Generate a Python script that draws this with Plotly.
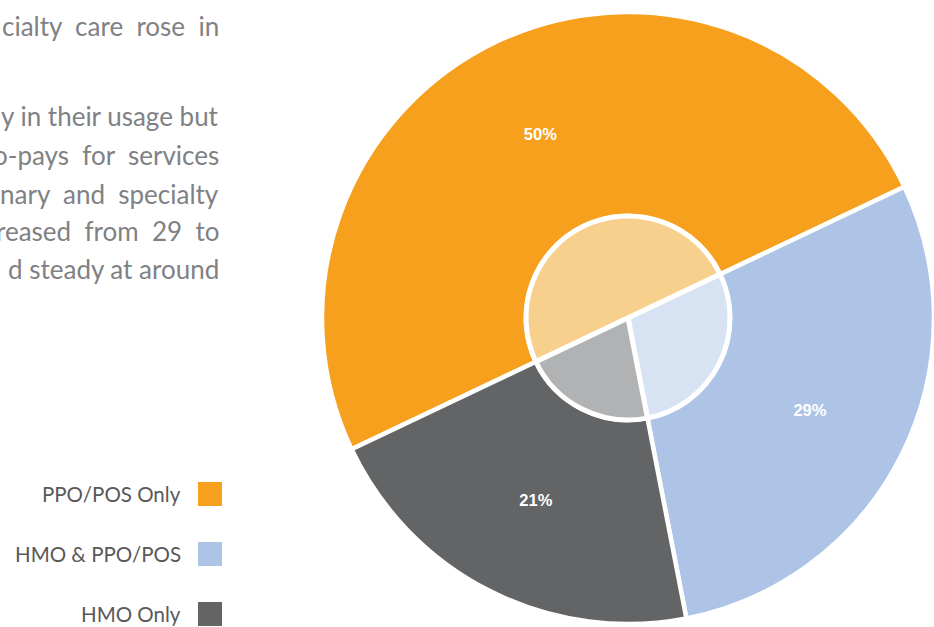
import plotly.graph_objects as go

categories = ["PPO/POS Only", "HMO & PPO/POS", "HMO Only"]
values = [50, 29, 21]
outer_colors = ["#F6A01E", "#AEC4E6", "#636466"]
inner_colors = ["#F8D08E", "#D7E2F3", "#B1B2B4"]

para_lines = [
    "cialty  care  rose  in",
    "",
    "y in their usage but",
    "o-pays  for  services",
    "nary  and  specialty",
    "reased  from  29  to",
    "d steady at around",
]
para_y = [26, None, 116, 155, 194, 231, 269]

W, H = 934, 627
cx, cy, R = 628, 318, 306
r_in = 102

fig = go.Figure()
fig.add_trace(go.Pie(
    labels=categories, values=values, sort=False, direction="clockwise",
    rotation=244.6, hole=r_in / R,
    marker=dict(colors=outer_colors, line=dict(color="white", width=4.5)),
    textinfo="percent", texttemplate="<b>%{percent:.0%}</b>",
    textposition="inside", insidetextorientation="horizontal",
    textfont=dict(family="Liberation Sans, Arial", size=16.5, color="white"),
    domain=dict(x=[(cx - R) / W, (cx + R) / W], y=[(H - cy - R) / H, (H - cy + R) / H]),
    hoverinfo="skip", showlegend=False,
))
fig.add_trace(go.Pie(
    labels=categories, values=values, sort=False, direction="clockwise",
    rotation=244.6,
    marker=dict(colors=inner_colors, line=dict(color="white", width=5)),
    textinfo="none",
    domain=dict(x=[(cx - r_in) / W, (cx + r_in) / W], y=[(H - cy - r_in) / H, (H - cy + r_in) / H]),
    hoverinfo="skip", showlegend=False,
))

annotations = []
for txt, y in zip(para_lines, para_y):
    if y is None or not txt:
        continue
    annotations.append(dict(
        x=221 / W, y=1 - y / H, xref="paper", yref="paper", xanchor="right", yanchor="middle",
        text=txt.replace(" ", "\u00a0"), showarrow=False,
        font=dict(family="Lato", size=26, color="#808185"),
    ))

shapes = []
leg_y = [494, 554, 614]
for lab, col, y in zip(categories, outer_colors, leg_y):
    annotations.append(dict(
        x=183 / W, y=1 - y / H, xref="paper", yref="paper", xanchor="right", yanchor="middle",
        text=lab, showarrow=False,
        font=dict(family="Lato", size=20.5, color="#595959"),
    ))
    shapes.append(dict(
        type="rect", xref="paper", yref="paper",
        x0=198 / W, x1=222 / W, y0=1 - (y - 12) / H, y1=1 - (y + 12) / H,
        fillcolor=col, line=dict(width=0),
    ))

fig.update_layout(
    width=W, height=H, margin=dict(l=0, r=0, t=0, b=0),
    paper_bgcolor="white", plot_bgcolor="white",
    annotations=annotations, shapes=shapes,
)
fig.write_html("out.html")
